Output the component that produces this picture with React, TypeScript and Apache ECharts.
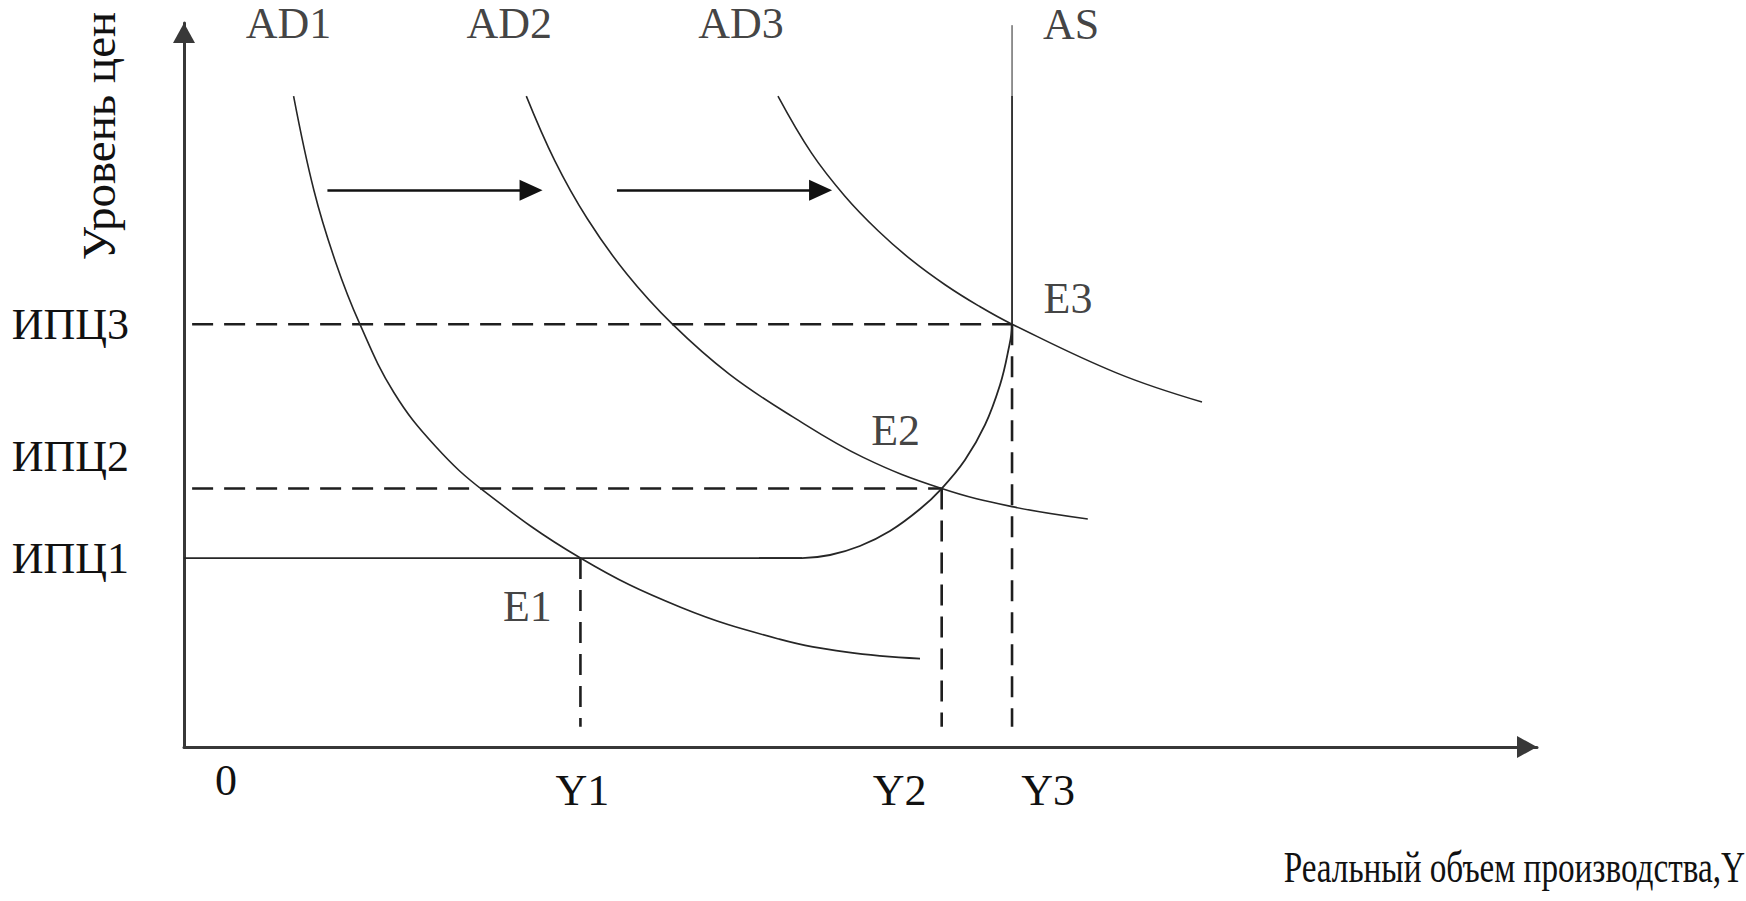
import React, { useEffect, useRef } from 'react';
import * as echarts from 'echarts';

const FONT = '"Liberation Serif", "Times New Roman", serif';

// Price levels (y) and real output levels (x) at the equilibria
const priceLabels = ['ИПЦ1', 'ИПЦ2', 'ИПЦ3'];
const priceLevels = [26.1, 35.7, 58.4];
const outputLabels = ['0', 'Y1', 'Y2', 'Y3'];
const outputLevels = [0, 29.3, 56.0, 61.2];

// Aggregate demand curves [output, price]
const ad1 = [[8.1, 89.9], [9.6, 76.9], [11.2, 67.0], [13.0, 58.4], [15.5, 49.0], [18.6, 41.5], [22.2, 35.3], [29.3, 26.1], [36.7, 19.3], [44.0, 14.9], [49.0, 13.1], [54.4, 12.2]];
const ad2 = [[25.3, 89.9], [27.4, 81.0], [29.8, 73.0], [32.7, 65.4], [36.1, 58.4], [40.3, 51.5], [45.0, 45.6], [50.2, 40.0], [56.0, 35.7], [61.2, 33.2], [66.8, 31.5]];
const ad3 = [[43.9, 89.9], [46.37, 82.06], [48.85, 76.08], [51.32, 71.27], [53.78, 67.24], [56.25, 63.85], [58.73, 60.93], [61.2, 58.4], [68.96, 51.64], [75.24, 47.65]];

// Aggregate supply: flat, rising and vertical parts
const asFlat = [[0, 26.1], [45.68, 26.1]];
const asCurve = [[42.5, 26.1], [45.68, 26.1], [47.75, 26.52], [49.96, 27.76], [52.18, 29.83], [54.4, 32.87], [56.0, 35.7], [57.72, 39.64], [59.2, 44.48], [60.31, 50.0], [60.9, 54.56], [61.2, 58.4], [61.2, 89.9]];
const asTop = [[61.2, 89.9], [61.2, 99.7]];

const equilibriumNames = ['E1', 'E2', 'E3'];
const curveNames = ['AD1', 'AD2', 'AD3', 'AS'];

// Shift arrows: [fromX, toX, y]
const shiftArrows = [[10.6, 26.5, 76.9], [32.0, 47.9, 76.9]];
const guideStart = 0.6;
const guideBottom = 2.8;

const xTitle = 'Реальный объем производства,Y';
const yTitle = 'Уровень цен';

export default function App() {
  const ref = useRef<HTMLDivElement>(null);

  useEffect(() => {
    if (!ref.current) return;
    const chart = echarts.init(ref.current, undefined, { renderer: 'svg' });

    const ink = '#262626';
    const textColor = '#111';
    const baseText = { fontFamily: FONT, fontSize: 44, lineHeight: 36, color: textColor };

    const curveLine = (name: string, data: number[][], smooth: number | boolean, width = 1.6) => ({
      type: 'line', name, data, smooth, symbol: 'none', showSymbol: false, silent: true,
      lineStyle: { color: ink, width }, z: 3,
    });
    const dashLine = (name: string, data: number[][]) => ({
      type: 'line', name, data, smooth: false, symbol: 'none', showSymbol: false, silent: true,
      lineStyle: { color: '#1e1e1e', width: 2.6, type: [21, 11] }, z: 2,
    });

    // guides
    const hGuides = [1, 2].map((i) => [[guideStart, priceLevels[i]], [outputLevels[i + 1], priceLevels[i]]]);
    const vGuides = [0, 1, 2].map((i) => [[outputLevels[i + 1], priceLevels[i]], [outputLevels[i + 1], guideBottom]]);

    // labels
    const eOffsets = [[-53, 48], [-46, -58], [56, -26]];
    const cOffsets = [[-5, -73], [-17, -73], [-37, -73], [59, -1]];
    const curveAnchors = [ad1[0], ad2[0], ad3[0], asTop[1]];
    const labelData = [
      ...equilibriumNames.map((n, i) => ({
        value: [outputLevels[i + 1], priceLevels[i]],
        label: { show: true, formatter: n, position: 'inside', offset: eOffsets[i], ...baseText },
      })),
      ...curveNames.map((n, i) => ({
        value: curveAnchors[i],
        label: { show: true, formatter: n, position: 'inside', offset: cOffsets[i], ...baseText },
      })),
    ];

    const arrowHalf = 0.85;

    const xRich: any = {
      x0: { ...baseText, padding: [0, 0, 0, 84] },
      x1: { ...baseText, padding: [20, 0, 0, 4] },
      x2: { ...baseText, padding: [20, 84, 0, 0] },
      x3: { ...baseText, padding: [20, 0, 0, 72] },
    };
    const yRich: any = {
      y0: { ...baseText, padding: [0, 0, 0, 0] },
      y1: { ...baseText, padding: [0, 0, 64, 0] },
      y2: { ...baseText, padding: [0, 0, 0, 0] },
    };
    const nearest = (arr: number[], v: number) => {
      let best = 0;
      arr.forEach((a, i) => { if (Math.abs(a - v) < Math.abs(arr[best] - v)) best = i; });
      return best;
    };

    const axisLineStyle = {
      show: true, onZero: false, symbol: ['none', 'triangle'], symbolSize: [22, 20], symbolOffset: [0, -10],
      lineStyle: { color: '#383838', width: 3 },
    };
    const xLabel = (values: number[]) => ({
      show: true, customValues: values, margin: 15, showMinLabel: true, showMaxLabel: true, hideOverlap: false,
      formatter: (v: number) => { const i = nearest(outputLevels, v); return `{x${i}|${outputLabels[i]}}`; },
      rich: xRich, ...baseText,
    });
    const yLabel = (values: number[]) => ({
      show: true, customValues: values, margin: 55, showMinLabel: true, showMaxLabel: true, hideOverlap: false,
      formatter: (v: number) => { const i = nearest(priceLevels, v); return `{y${i}|${priceLabels[i]}}`; },
      rich: yRich, ...baseText,
    });

    const option: any = {
      animation: false,
      backgroundColor: '#ffffff',
      grid: { left: 184, right: 209, top: 23, bottom: 154, containLabel: false, outerBoundsMode: 'none' },
      xAxis: [
        {
          type: 'value', min: 0, max: 100, position: 'bottom',
          axisLine: axisLineStyle, axisTick: { show: false }, splitLine: { show: false },
          axisLabel: xLabel([outputLevels[0], outputLevels[1], outputLevels[3]]),
        },
        {
          type: 'value', min: 0, max: 100, position: 'bottom',
          axisLine: { show: false, onZero: false }, axisTick: { show: false }, splitLine: { show: false },
          axisLabel: xLabel([outputLevels[2]]),
        },
      ],
      yAxis: [
        {
          type: 'value', min: 0, max: 100, position: 'left',
          axisLine: axisLineStyle, axisTick: { show: false }, splitLine: { show: false },
          axisLabel: yLabel([priceLevels[0], priceLevels[2]]),
        },
        {
          type: 'value', min: 0, max: 100, position: 'left',
          axisLine: { show: false, onZero: false }, axisTick: { show: false }, splitLine: { show: false },
          axisLabel: yLabel([priceLevels[1]]),
        },
      ],
      graphic: [
        {
          type: 'text', x: 1745, y: 867, scaleX: 0.755, silent: true,
          style: { text: xTitle, fontFamily: FONT, fontSize: 44, fill: textColor, align: 'right', verticalAlign: 'middle' },
        },
        {
          type: 'text', x: 99, y: 136, rotation: Math.PI / 2, silent: true,
          style: { text: yTitle, fontFamily: FONT, fontSize: 47, fill: textColor, align: 'center', verticalAlign: 'middle' },
        },
      ],
      series: [
        curveLine('AD1', ad1, 0.4),
        curveLine('AD2', ad2, 0.4),
        curveLine('AD3', ad3, 0.4),
        curveLine('AS flat', asFlat, false, 1.8),
        curveLine('AS', asCurve, 0.4, 1.8),
        curveLine('AS top', asTop, false, 1),
        ...hGuides.map((d, i) => dashLine('h' + i, d)),
        ...vGuides.map((d, i) => dashLine('v' + i, d)),
        {
          type: 'line', name: 'shifts', data: [], silent: true,
          markLine: {
            silent: true, symbol: ['none', 'triangle'], symbolSize: [21, 23],
            label: { show: false },
            lineStyle: { color: '#111', width: 2.6, type: 'solid' },
            emphasis: { disabled: true },
            data: shiftArrows.map(([x0, x1, y]) => [{ coord: [x0, y] }, { coord: [x1 - arrowHalf, y] }]),
          },
        },
        {
          type: 'scatter', name: 'labels', data: labelData, symbolSize: 1, silent: true,
          itemStyle: { color: 'rgba(0,0,0,0)' }, z: 5,
        },
      ],
    };

    chart.setOption(option);
    return () => chart.dispose();
  }, []);

  return (
    <div
      ref={ref}
      style={{ position: 'fixed', left: 0, top: 0, width: 1746, height: 901, background: '#fff' }}
    />
  );
}
